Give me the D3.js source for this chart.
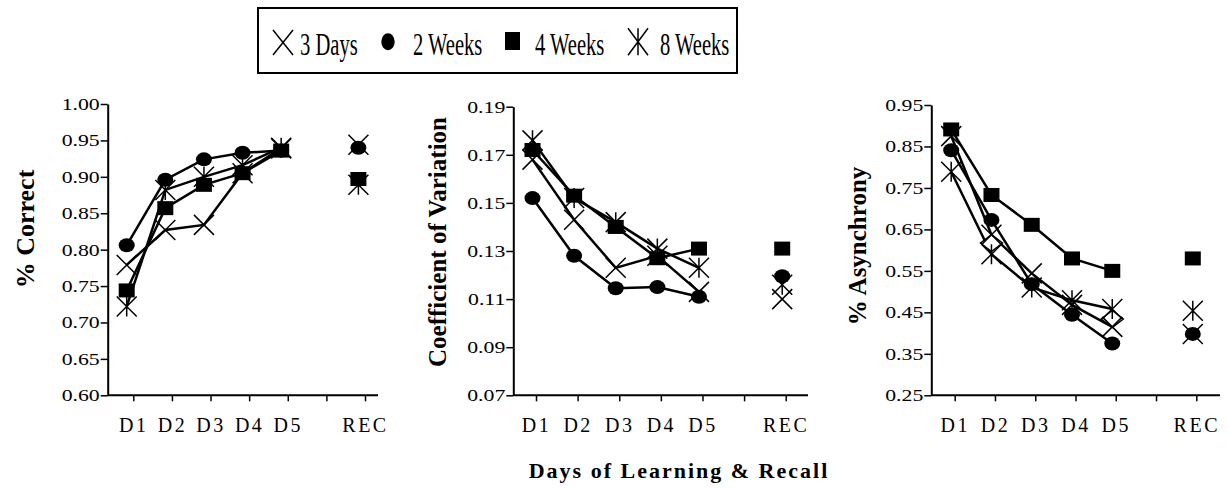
<!DOCTYPE html>
<html>
<head>
<meta charset="utf-8">
<script src="https://cdn.jsdelivr.net/npm/d3@7"></script>
<style>
  html, body { margin: 0; padding: 0; background: #fff; }
  svg { display: block; }
</style>
</head>
<body>
<svg id="chart" width="1228" height="488"></svg>
<script>
// data
const days = ["D1", "D2", "D3", "D4", "D5", " ", "REC"];
const seriesNames = ["3 Days", "2 Weeks", "4 Weeks", "8 Weeks"];
const seriesMarks = ["x", "circle", "square", "asterisk"];

const correct3Days  = [0.779, 0.827, 0.834, 0.905, 0.939, null, 0.944];
const correct2Weeks = [0.806, 0.896, 0.924, 0.933, 0.936, null, 0.940];
const correct4Weeks = [0.744, 0.857, 0.889, 0.905, 0.936, null, 0.897];
const correct8Weeks = [0.722, 0.882, 0.900, 0.916, 0.940, null, 0.889];

const cv3Days  = [0.168, 0.143, 0.123, 0.128, 0.113, null, 0.110];
const cv2Weeks = [0.152, 0.128, 0.1145, 0.115, 0.111, null, 0.1195];
const cv4Weeks = [0.172, 0.153, 0.140, 0.127, 0.131, null, 0.131];
const cv8Weeks = [0.176, 0.152, 0.142, 0.131, 0.123, null, 0.116];

const async3Days  = [0.875, 0.637, 0.544, 0.468, 0.415, null, 0.398];
const async2Weeks = [0.841, 0.673, 0.518, 0.444, 0.375, null, 0.398];
const async4Weeks = [0.891, 0.733, 0.661, 0.580, 0.550, null, 0.580];
const async8Weeks = [0.789, 0.590, 0.510, 0.479, 0.458, null, 0.454];
// stray open diamonds in the third panel (no legend entry, no line)
const asyncDiamond = [null, 0.617, null, null, 0.434, null, null];

const correctTicks = [0.60, 0.65, 0.70, 0.75, 0.80, 0.85, 0.90, 0.95, 1.00];
const cvTicks = [0.07, 0.09, 0.11, 0.13, 0.15, 0.17, 0.19];
const asyncTicks = [0.25, 0.35, 0.45, 0.55, 0.65, 0.75, 0.85, 0.95];

const serif = "'Liberation Serif', 'Times New Roman', serif";
const svg = d3.select("#chart");

// marker shapes as paths, w/h = half sizes
const markerPath = (type, w, h) => {
  if (type === "x") return `M${-w},${-h}L${w},${h}M${-w},${h}L${w},${-h}`;
  if (type === "asterisk") return `M${-w},${-h}L${w},${h}M${-w},${h}L${w},${-h}M0,${-h}L0,${h}`;
  if (type === "square") return `M${-w},${-h}H${w}V${h}H${-w}Z`;
  if (type === "diamond") return `M0,${-h}L${w},0L0,${h}L${-w},0Z`;
  return `M${-w},0A${w},${h} 0 1,0 ${w},0A${w},${h} 0 1,0 ${-w},0Z`;
};
const markerSize = { x: [10, 10], asterisk: [10, 10], circle: [8, 7], square: [8, 7], diamond: [11, 8.5] };
const filled = (t) => t === "circle" || t === "square";

// legend
const legend = svg.append("g");
legend.append("rect")
  .attr("x", 258).attr("y", 8).attr("width", 479).attr("height", 65)
  .attr("fill", "none").attr("stroke", "#000").attr("stroke-width", 2);
const legendItems = [
  { mark: "x", cx: 283, cy: 42.5, w: 10, h: 12.5, tx: 300 },
  { mark: "circle", cx: 388, cy: 41.7, w: 6.7, h: 8.5, tx: 413 },
  { mark: "square", cx: 512.5, cy: 41, w: 7.5, h: 9, tx: 535 },
  { mark: "asterisk", cx: 638, cy: 41.7, w: 10, h: 13.5, tx: 660 },
];
legendItems.forEach((d, i) => {
  legend.append("path")
    .attr("transform", `translate(${d.cx},${d.cy})`)
    .attr("d", markerPath(d.mark, d.w, d.h))
    .attr("fill", filled(d.mark) ? "#000" : "none")
    .attr("stroke", "#000")
    .attr("stroke-width", filled(d.mark) ? 0 : 1.5);
  legend.append("text")
    .attr("transform", `translate(${d.tx},55) scale(0.98,1.55)`)
    .style("font-family", serif)
    .style("font-size", "21px")
    .text(seriesNames[i]);
});

// panels
const panels = [
  {
    title: "% Correct", tsize: 26, tcx: 25, tcy: 229,
    series: [correct3Days, correct2Weeks, correct4Weeks, correct8Weeks],
    domain: [0.60, 1.00], ticks: correctTicks,
    x0: 107.7, x1: 378, r0: 133.3, r1: 365, top: 104, bottom: 395.3, shift: -6.6,
  },
  {
    title: "Coefficient of Variation", tsize: 25, tcx: 437, tcy: 242,
    series: [cv3Days, cv2Weeks, cv4Weeks, cv8Weeks],
    domain: [0.07, 0.19], ticks: cvTicks,
    x0: 513.3, x1: 808, r0: 536, r1: 785.7, top: 106.7, bottom: 395.3, shift: -3.5,
  },
  {
    title: "% Asynchrony", tsize: 25, tcx: 857, tcy: 246,
    series: [async3Days, async2Weeks, async4Weeks, async8Weeks],
    extra: asyncDiamond,
    domain: [0.25, 0.95], ticks: asyncTicks,
    x0: 931.3, x1: 1220, r0: 954.7, r1: 1196.3, top: 105, bottom: 395.3, shift: -3.5,
  },
];

const render = (p) => {
  const g = svg.append("g");
  const x = d3.scalePoint().domain(days).range([p.r0, p.r1]);
  const y = d3.scaleLinear().domain(p.domain).range([p.bottom, p.top]);
  const px = (i) => x(days[i]) + p.shift;

  // y axis
  const yAxis = g.append("g")
    .attr("transform", `translate(${p.x0},0)`)
    .call(d3.axisLeft(y).tickValues(p.ticks).tickFormat(d3.format(".2f")).tickSize(7).tickSizeOuter(0));
  yAxis.select(".domain").attr("stroke-width", 2);
  yAxis.selectAll(".tick line").attr("stroke-width", 1.5);
  yAxis.selectAll(".tick text")
    .attr("x", -8 / 1.28)
    .attr("transform", "scale(1.28,1)")
    .style("font-family", serif)
    .style("font-size", "17px")
    .attr("fill", "#000");

  // x axis
  const xAxis = g.append("g")
    .attr("transform", `translate(0,${p.bottom})`)
    .call(d3.axisBottom(x).tickSize(6).tickSizeOuter(0).tickPadding(16.5));
  xAxis.select(".domain").remove();
  xAxis.append("line")
    .attr("x1", p.x0).attr("x2", p.x1)
    .attr("stroke", "#000").attr("stroke-width", 2);
  xAxis.selectAll(".tick line").attr("stroke-width", 1.5);
  xAxis.selectAll(".tick text")
    .style("font-family", serif)
    .style("font-size", "20px")
    .style("letter-spacing", "2.5px")
    .attr("fill", "#000");

  // axis title
  g.append("text")
    .attr("transform", `translate(${p.tcx},${p.tcy}) rotate(-90)`)
    .attr("text-anchor", "middle")
    .attr("dy", "0.35em")
    .style("font-family", serif)
    .style("font-weight", "bold")
    .style("font-size", `${p.tsize}px`)
    .text(p.title);

  // lines (D1..D5 connected, REC stands alone)
  const line = d3.line()
    .defined((d) => d != null)
    .x((d, i) => px(i))
    .y((d) => y(d));
  p.series.forEach((s) => {
    g.append("path")
      .datum(s)
      .attr("d", line)
      .attr("fill", "none")
      .attr("stroke", "#000")
      .attr("stroke-width", 2.5);
  });

  // markers
  const drawMarks = (s, type) => {
    const [w, h] = markerSize[type];
    g.append("g")
      .selectAll("path")
      .data(s.map((v, i) => ({ v, i })).filter((d) => d.v != null))
      .join("path")
      .attr("transform", (d) => `translate(${px(d.i)},${y(d.v)})`)
      .attr("d", markerPath(type, w, h))
      .attr("fill", filled(type) ? "#000" : (type === "diamond" ? "#fff" : "none"))
      .attr("stroke", "#000")
      .attr("stroke-width", filled(type) ? 0 : 1.5);
  };
  if (p.extra) drawMarks(p.extra, "diamond");
  [0, 3, 1, 2].forEach((k) => drawMarks(p.series[k], seriesMarks[k]));
};

panels.forEach(render);

// shared x title
svg.append("text")
  .attr("x", 679)
  .attr("y", 478)
  .attr("text-anchor", "middle")
  .style("font-family", serif)
  .style("font-weight", "bold")
  .style("font-size", "22px")
  .style("letter-spacing", "2px")
  .text("Days of Learning & Recall");
</script>
</body>
</html>
